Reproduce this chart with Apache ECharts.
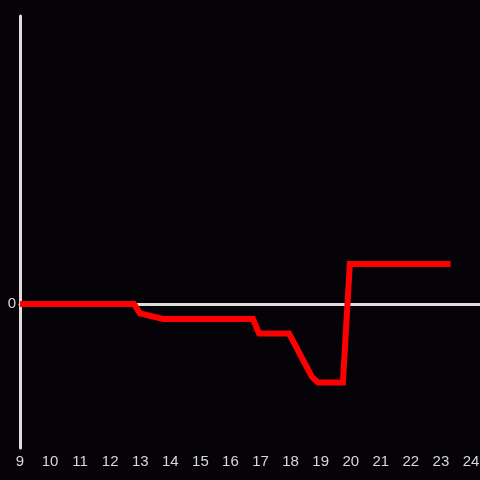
<!DOCTYPE html>
<html>
<head>
<meta charset="utf-8">
<script src="https://cdn.jsdelivr.net/npm/echarts@6/dist/echarts.min.js"></script>
<style>
  html, body { margin: 0; padding: 0; background: #050308; }
  #chart { width: 480px; height: 480px; }
</style>
</head>
<body>
<div id="chart"></div>
<script>
// values
var xValues = [9, 12.79, 12.99, 13.76, 16.75, 16.95, 17.95, 18.71, 18.91, 19.74, 19.97, 23.32];
var yValues = [0, 0, -0.79, -1.25, -1.25, -2.46, -2.46, -6.08, -6.54, -6.54, 3.33, 3.33];
var xTicks = [9, 10, 11, 12, 13, 14, 15, 16, 17, 18, 19, 20, 21, 22, 23, 24];

var points = xValues.map(function (x, i) { return [x, yValues[i]]; });

var chart = echarts.init(document.getElementById('chart'));
var axisColor = '#dddddd';
var labelColor = '#d8d8d8';
var font = 'Liberation Sans, Arial, sans-serif';

chart.setOption({
  backgroundColor: '#050308',
  animation: false,
  grid: { left: 20, right: 0, top: 16, bottom: 32, containLabel: false, outerBoundsMode: 'none' },
  xAxis: [{
    type: 'value', min: 9, max: 24.3, interval: 1,
    position: 'bottom',
    axisLine: { show: true, onZero: true, lineStyle: { color: axisColor, width: 3 } },
    axisTick: { show: false },
    axisLabel: { show: false },
    splitLine: { show: false }
  }, {
    type: 'value', min: 9, max: 24.3, interval: 1,
    position: 'bottom',
    axisLine: { show: false, onZero: false },
    axisTick: { show: false },
    axisLabel: {
      color: labelColor, fontSize: 15, margin: 6, showMaxLabel: false,
      fontFamily: font,
      formatter: function (v) { return xTicks.indexOf(v) >= 0 ? String(v) : ''; }
    },
    splitLine: { show: false }
  }],
  yAxis: {
    type: 'value', min: -12, max: 24, interval: 12,
    axisLine: { show: true, onZero: false, lineStyle: { color: axisColor, width: 3 } },
    axisTick: { show: false },
    axisLabel: {
      color: labelColor, fontSize: 15, margin: 4,
      fontFamily: font,
      formatter: function (v) { return v === 0 ? '0' : ''; }
    },
    splitLine: { show: false }
  },
  series: [{
    type: 'line',
    xAxisIndex: 0,
    data: points,
    symbol: 'none',
    lineStyle: { color: '#ff0000', width: 6, join: 'miter' }
  }]
});
</script>
</body>
</html>
